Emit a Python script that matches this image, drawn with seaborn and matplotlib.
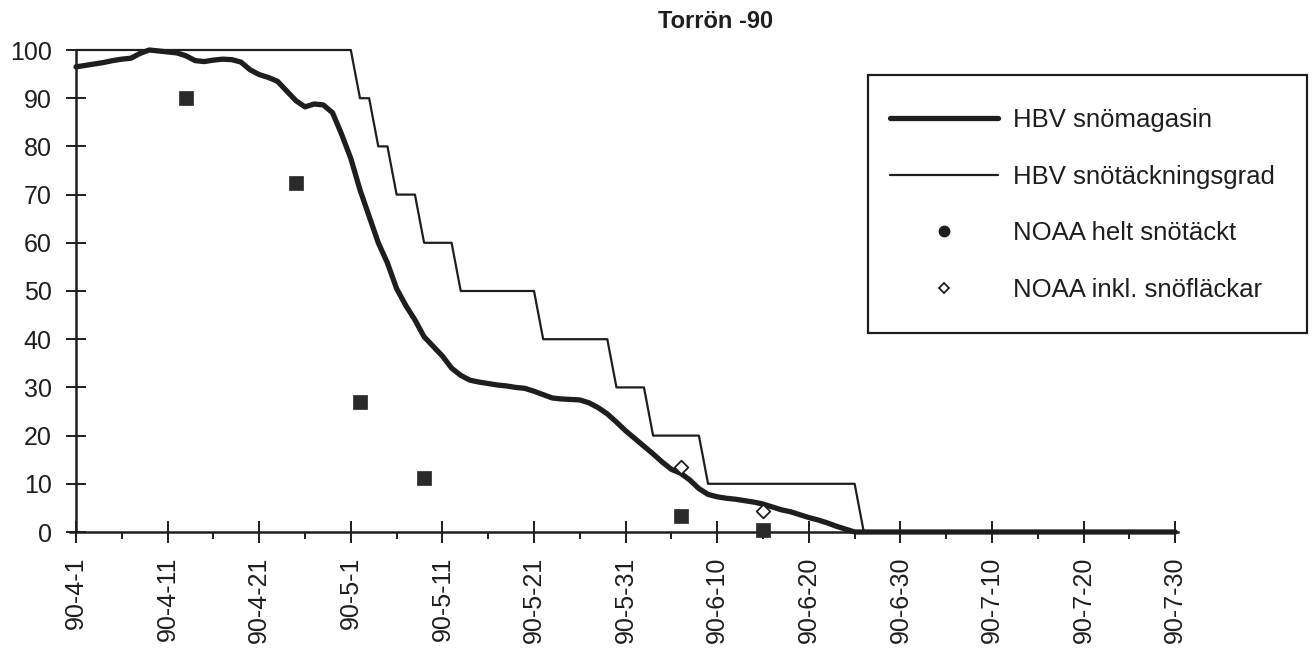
import numpy as np
import pandas as pd
import matplotlib
matplotlib.use("Agg")
import matplotlib.pyplot as plt
import seaborn as sns
from matplotlib.lines import Line2D
from matplotlib.patches import Rectangle

# ---------------- data ----------------
tick_labels = ["90-4-1", "90-4-11", "90-4-21", "90-5-1", "90-5-11", "90-5-21",
               "90-5-31", "90-6-10", "90-6-20", "90-6-30", "90-7-10", "90-7-20",
               "90-7-30"]

# HBV snömagasin, daily from 90-4-1 to 90-7-30
snomagasin = [
    96.5, 96.8, 97.1, 97.4, 97.8, 98.1, 98.3, 99.3, 100.0, 99.8,
    99.6, 99.4, 98.8, 97.8, 97.6, 97.9, 98.1, 98.0, 97.5, 95.9,
    94.9, 94.3, 93.5, 91.5, 89.5, 88.2, 88.8, 88.6, 87.0, 82.5,
    77.5, 71.0, 65.5, 60.0, 55.8, 50.5, 47.0, 44.0, 40.5, 38.5,
    36.5, 34.0, 32.5, 31.5, 31.1, 30.8, 30.5, 30.3, 30.0, 29.8,
    29.2, 28.5, 27.8, 27.6, 27.5, 27.4, 26.8, 25.8, 24.5, 22.8,
    21.0, 19.4, 17.8, 16.2, 14.5, 13.0, 12.2, 10.8, 9.0, 7.8,
    7.3, 7.0, 6.8, 6.5, 6.2, 5.8, 5.2, 4.6, 4.2, 3.6,
    3.0, 2.5, 1.9, 1.2, 0.6, 0.0, 0.0, 0.0, 0.0, 0.0,
    0.0, 0.0, 0.0, 0.0, 0.0, 0.0, 0.0, 0.0, 0.0, 0.0,
    0.0, 0.0, 0.0, 0.0, 0.0, 0.0, 0.0, 0.0, 0.0, 0.0,
    0.0, 0.0, 0.0, 0.0, 0.0, 0.0, 0.0, 0.0, 0.0, 0.0,
    0.0,
]

# HBV snötäckningsgrad, daily
tackningsgrad = [
    100, 100, 100, 100, 100, 100, 100, 100, 100, 100,
    100, 100, 100, 100, 100, 100, 100, 100, 100, 100,
    100, 100, 100, 100, 100, 100, 100, 100, 100, 100,
    100, 90, 90, 80, 80, 70, 70, 70, 60, 60,
    60, 60, 50, 50, 50, 50, 50, 50, 50, 50,
    50, 40, 40, 40, 40, 40, 40, 40, 40, 30,
    30, 30, 30, 20, 20, 20, 20, 20, 20, 10,
    10, 10, 10, 10, 10, 10, 10, 10, 10, 10,
    10, 10, 10, 10, 10, 10, 0, 0, 0, 0,
    0, 0, 0, 0, 0, 0, 0, 0, 0, 0,
    0, 0, 0, 0, 0, 0, 0, 0, 0, 0,
    0, 0, 0, 0, 0, 0, 0, 0, 0, 0,
    0,
]

# NOAA observations (day index from 90-4-1)
helt_days = [12, 24, 31, 38, 66, 75]
helt_values = [90.0, 72.5, 27.0, 11.2, 3.3, 0.4]
inkl_days = [66, 75]
inkl_values = [13.5, 4.4]

series_labels = ["HBV snömagasin", "HBV snötäckningsgrad",
                 "NOAA helt snötäckt", "NOAA inkl. snöfläckar"]

# ---------------- plot ----------------
sns.set_style("ticks")
plt.rcParams["font.family"] = ["Liberation Sans", "DejaVu Sans"]

ink = "#1e1e1e"
df = pd.DataFrame({
    "day": np.arange(len(snomagasin)),
    "mag": snomagasin,
    "grad": tackningsgrad,
})
df_helt = pd.DataFrame({"day": helt_days, "v": helt_values})
df_inkl = pd.DataFrame({"day": inkl_days, "v": inkl_values})

W, H = 1316, 648
fig = plt.figure(figsize=(W / 100, H / 100), dpi=100)
ax = fig.add_axes([76 / W, 1 - 532 / H, (1178 - 76) / W, (532 - 50) / H])

sns.lineplot(data=df, x="day", y="grad", ax=ax, color=ink, linewidth=1.6,
             legend=False, clip_on=False, zorder=3)
sns.lineplot(data=df, x="day", y="mag", ax=ax, color=ink, linewidth=3.8,
             legend=False, clip_on=False, zorder=4, solid_joinstyle="round",
             solid_capstyle="round")
sns.scatterplot(data=df_helt, x="day", y="v", ax=ax, marker="s", s=90,
                color="#2a2a2a", edgecolor="#2a2a2a", linewidth=0.5,
                legend=False, clip_on=False, zorder=5)
sns.scatterplot(data=df_inkl, x="day", y="v", ax=ax, marker="D", s=48,
                facecolor="white", edgecolor=ink, linewidth=1.3,
                legend=False, clip_on=False, zorder=6)

ax.set_xlim(0, 120.3)
ax.set_ylim(0, 100)
ax.set_xticks(np.arange(0, 121, 10))
ax.set_xticklabels(tick_labels, rotation=90)
ax.set_xticks(np.arange(5, 121, 10), minor=True)
ax.set_yticks(np.arange(0, 101, 10))
ax.set_xlabel("")
ax.set_ylabel("")

for side in ["top", "right"]:
    ax.spines[side].set_visible(False)
for side in ["left", "bottom"]:
    ax.spines[side].set_color(ink)
    ax.spines[side].set_linewidth(1.8)
ax.spines["bottom"].set_bounds(-0.7, 120.3)

ax.tick_params(axis="x", which="major", direction="inout", length=16, width=1.4,
               color=ink, labelsize=18, pad=9.5, labelcolor=ink)
ax.tick_params(axis="x", which="minor", direction="out", length=5, width=1.4, color=ink)
ax.tick_params(axis="y", direction="inout", length=14, width=1.4, color=ink,
               labelsize=18, pad=10.5, labelcolor=ink)

fig.text(716 / W, 1 - 22 / H, "Torrön -90", ha="center", va="center",
         fontsize=17, fontweight="bold", color=ink)

# legend box
fig.patches.append(Rectangle((868 / W, 1 - 333 / H), (1307 - 868) / W, (333 - 75) / H,
                             transform=fig.transFigure, facecolor="white",
                             edgecolor=ink, linewidth=1.6, zorder=10))

handles = [
    Line2D([], [], color=ink, linewidth=3.8),
    Line2D([], [], color=ink, linewidth=1.6),
    Line2D([], [], color=ink, marker="o", linestyle="none", markersize=7.5),
    Line2D([], [], color=ink, marker="D", linestyle="none", markersize=5.5,
           markerfacecolor="white", markeredgewidth=1.3),
]
leg = fig.legend(handles, series_labels, loc="upper left",
                 bbox_to_anchor=(890 / W, 1 - 108 / H),
                 bbox_transform=fig.transFigure, frameon=False,
                 fontsize=18.5, handlelength=4.2, handletextpad=0.6,
                 labelspacing=1.27, borderpad=0, borderaxespad=0)
leg.set_zorder(11)
for t in leg.get_texts():
    t.set_color(ink)

fig.savefig("out.png", dpi=100)
